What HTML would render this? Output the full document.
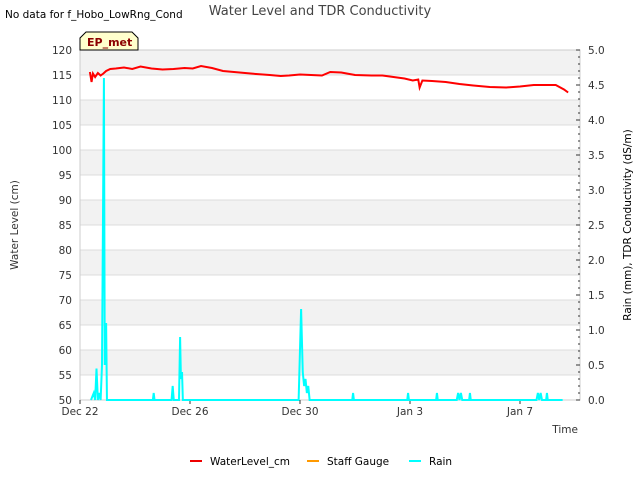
<!DOCTYPE html>
<html><head><meta charset="utf-8"><style>
body{margin:0;background:#fff;font-family:"Liberation Sans","DejaVu Sans",sans-serif;}
svg text{font-family:"DejaVu Sans","Liberation Sans",sans-serif;}
</style></head><body>
<svg id="c" width="640" height="480" xmlns="http://www.w3.org/2000/svg">
<rect width="640" height="480" fill="#fff"/>
<text x="5" y="18" font-size="10.5" fill="#000">No data for f_Hobo_LowRng_Cond</text>
<text x="320" y="15" font-size="13" fill="#444" text-anchor="middle">Water Level and TDR Conductivity</text>
<g id="grid"></g>
<g id="axes"></g>
<g id="series"></g>
<g>
<path d="M80,50 L80,38 L86,32 L132,32 L138,38 L138,50 Z" fill="#ffffcc" stroke="#000"/>
<text x="87" y="46" font-size="11" font-weight="bold" fill="#8b0000">EP_met</text></g>
<text x="18" y="225" font-size="10.5" fill="#333" text-anchor="middle" transform="rotate(-90 18 225)">Water Level (cm)</text>
<text x="631" y="225" font-size="10.5" fill="#000" text-anchor="middle" transform="rotate(-90 631 225)">Rain (mm), TDR Conductivity (dS/m)</text>
<text x="578" y="433" font-size="10.5" fill="#333" text-anchor="end">Time</text>
<g>
<g><line x1="190" y1="461" x2="202" y2="461" stroke="#e00" stroke-width="2"/><text x="210" y="465" font-size="10.5" fill="#000">WaterLevel_cm</text></g>
<g><line x1="307" y1="461" x2="319" y2="461" stroke="#f90" stroke-width="2"/><text x="327" y="465" font-size="10.5" fill="#000">Staff Gauge</text></g>
<g><line x1="409" y1="461" x2="421" y2="461" stroke="#0ff" stroke-width="2"/><text x="429" y="465" font-size="10.5" fill="#000">Rain</text></g>
</g>
</svg>
<script>
const xTickLabels=["Dec 22","Dec 26","Dec 30","Jan 3","Jan 7"];
const xTickDays=[0,4,8,12,16];
const yTicks=[50,55,60,65,70,75,80,85,90,95,100,105,110,115,120];
const y2Ticks=[0,0.5,1,1.5,2,2.5,3,3.5,4,4.5,5];
const levelDays=[0.36,0.42,0.47,0.55,0.65,0.75,0.85,0.95,1.1,1.3,1.6,1.9,2.2,2.6,3.0,3.4,3.8,4.1,4.4,4.8,5.2,5.6,6.0,6.4,6.9,7.3,7.6,8.0,8.4,8.8,9.1,9.5,10.0,10.6,11.0,11.4,11.8,12.1,12.3,12.35,12.45,12.8,13.3,13.8,14.3,14.9,15.5,16.0,16.5,17.0,17.3,17.6,17.75];
const levelValues=[115.6,113.6,115.3,114.6,115.4,114.9,115.3,115.8,116.2,116.3,116.5,116.2,116.7,116.3,116.1,116.2,116.4,116.3,116.8,116.4,115.8,115.6,115.4,115.2,115.0,114.8,114.9,115.1,115.0,114.9,115.6,115.5,115.0,114.9,114.9,114.6,114.3,113.9,114.1,112.5,113.9,113.8,113.6,113.2,112.9,112.6,112.5,112.7,113.0,113.0,113.0,112.1,111.5];
const rainDays=[0.4,0.5,0.55,0.6,0.65,0.7,0.75,0.8,0.87,0.9,0.95,0.98,1.0,1.02,1.05,1.1,1.2,2.65,2.68,2.71,3.33,3.37,3.41,3.6,3.64,3.67,3.71,3.74,3.78,7.95,8.04,8.1,8.15,8.2,8.25,8.3,8.35,8.4,8.45,8.5,8.55,9.9,9.93,9.96,11.9,11.93,11.96,12.95,12.98,13.01,13.7,13.75,13.8,13.85,13.9,14.15,14.18,14.21,16.6,16.65,16.7,16.75,16.8,16.95,16.98,17.01,17.55];
const rainValues=[0,0.1,0,0.45,0,0.1,0,0.5,4.6,0.5,1.1,0,0,0,0,0,0,0,0.1,0,0,0.2,0,0,0.9,0.3,0.4,0,0,0,1.3,0.4,0.2,0.3,0.1,0.2,0,0,0,0,0,0,0.1,0,0,0.1,0,0,0.1,0,0,0.1,0,0.1,0,0,0.1,0,0,0.1,0,0.1,0,0,0.1,0,0];
const X0=80,X1=580,Y0=400,Y1=50;
const xs=d=>X0+d*27.5;
const ys=v=>Y0-(v-50)/70*(Y0-Y1);
const ys2=v=>Y0-v/5*(Y0-Y1);
const NS="http://www.w3.org/2000/svg";
function mk(tag,attrs,parent){const e=document.createElementNS(NS,tag);for(const k in attrs)e.setAttribute(k,attrs[k]);parent.appendChild(e);return e;}
const grid=document.getElementById('grid'),axes=document.getElementById('axes'),series=document.getElementById('series');
for(let i=0;i<yTicks.length-1;i++){
  const top=ys(yTicks[i+1]),bot=ys(yTicks[i]);
  if(i%2===1){const r=mk('rect',{x:X0,y:top,width:X1-X0,height:bot-top,fill:'#f2f2f2'},grid);
  
  }
}
yTicks.forEach(v=>{
  const l=mk('line',{x1:X0,x2:X1,y1:ys(v),y2:ys(v),stroke:'#dcdcdc'},grid);
  
  
  const t=mk('text',{x:X0-8,y:ys(v)+4,'font-size':10.5,'text-anchor':'end',fill:'#333'},axes);t.textContent=v;
  
  
});
const fr=mk('rect',{x:X0,y:Y1,width:X1-X0,height:Y0-Y1,fill:'none',stroke:'#ccc'},axes);


y2Ticks.forEach(v=>{
  mk('line',{x1:X1,x2:X1-4,y1:ys2(v),y2:ys2(v),stroke:'#333'},axes);
  const t=mk('text',{x:X1+8,y:ys2(v)+4,'font-size':10.5,fill:'#333'},axes);t.textContent=v.toFixed(1);
  
  
});
for(let i=0;i<=50;i++){mk('line',{x1:X1,x2:X1-2,y1:ys2(i/10),y2:ys2(i/10),stroke:'#333'},axes);}
xTickDays.forEach((d,i)=>{
  mk('line',{x1:xs(d),x2:xs(d),y1:Y0,y2:Y0+4,stroke:'#333'},axes);
  const t=mk('text',{x:xs(d),y:Y0+15,'font-size':10.5,'text-anchor':'middle',fill:'#333'},axes);t.textContent=xTickLabels[i];
  
  
});
const rp=mk('polyline',{points:rainDays.map((d,i)=>xs(d)+','+ys2(rainValues[i])).join(' '),fill:'none',stroke:'#00ffff','stroke-width':2},series);


const wp=mk('polyline',{points:levelDays.map((d,i)=>xs(d)+','+ys(levelValues[i])).join(' '),fill:'none',stroke:'#ff0000','stroke-width':2},series);


</script>
</body></html>
